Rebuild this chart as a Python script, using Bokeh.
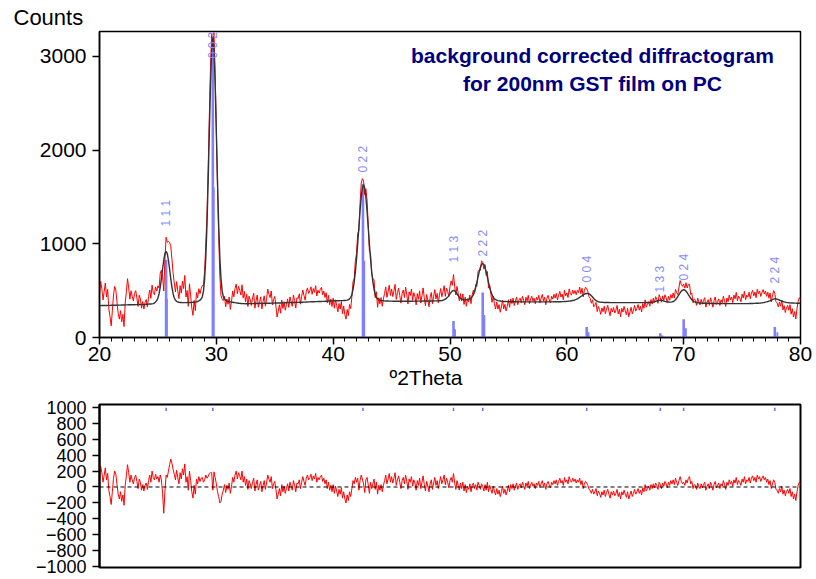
import numpy as np
from bokeh.plotting import figure
from bokeh.layouts import column
from bokeh.models import Label, Range1d, FixedTicker, Span, Title
from bokeh.embed import file_html
from bokeh.resources import INLINE
from bokeh.core.properties import value

# ---------------- data ----------------
# scan: 20-80 deg 2theta, step 0.1 deg
two_theta = np.round(np.arange(20.0, 80.0001, 0.1), 2)

# calculated profile (black line), one row per degree
calc_counts = [
    340, 340, 341, 341, 342, 342, 342, 343, 343, 343,
    344, 344, 344, 345, 345, 345, 346, 346, 346, 347,
    347, 347, 348, 348, 348, 349, 349, 349, 350, 350,
    350, 351, 351, 352, 352, 352, 353, 353, 354, 354,
    355, 355, 356, 357, 358, 359, 361, 367, 380, 395,
    422, 467, 538, 629, 731, 826, 895, 920, 895, 826,
    731, 629, 538, 467, 422, 398, 386, 379, 376, 374,
    373, 372, 372, 372, 372, 372, 373, 373, 374, 375,
    376, 377, 378, 380, 384, 390, 398, 410, 435, 495,
    628, 857, 1205, 1666, 2192, 2699, 3064, 3200, 3064, 2699,
    2192, 1666, 1205, 857, 628, 495, 435, 410, 398, 390,
    385, 382, 380, 378, 376, 374, 372, 370, 368, 366,
    364, 363, 362, 362, 361, 361, 361, 361, 361, 362,
    362, 362, 362, 363, 363, 363, 363, 364, 364, 364,
    364, 365, 365, 365, 366, 366, 366, 367, 367, 367,
    368, 368, 368, 369, 369, 369, 370, 370, 371, 371,
    371, 372, 372, 373, 373, 373, 374, 374, 375, 375,
    375, 376, 376, 377, 377, 378, 378, 379, 379, 380,
    380, 381, 381, 382, 382, 383, 383, 384, 384, 385,
    385, 386, 386, 387, 387, 388, 389, 389, 390, 391,
    391, 392, 392, 393, 393, 393, 394, 394, 394, 395,
    395, 396, 399, 404, 412, 428, 455, 515, 592, 699,
    838, 1001, 1177, 1350, 1497, 1595, 1630, 1595, 1497, 1350,
    1177, 1001, 838, 699, 592, 515, 455, 428, 412, 404,
    399, 396, 394, 392, 391, 390, 389, 389, 388, 388,
    388, 387, 387, 387, 387, 387, 387, 387, 387, 387,
    387, 387, 387, 387, 387, 387, 387, 387, 387, 388,
    388, 388, 388, 388, 388, 388, 388, 389, 389, 389,
    389, 389, 389, 390, 390, 390, 390, 391, 391, 391,
    391, 392, 393, 395, 398, 403, 409, 418, 431, 447,
    466, 484, 497, 502, 497, 484, 466, 447, 431, 418,
    409, 405, 403, 402, 403, 405, 408, 414, 421, 436,
    456, 490, 534, 587, 644, 700, 747, 779, 790, 779,
    747, 700, 644, 587, 534, 490, 455, 430, 414, 404,
    398, 394, 391, 389, 387, 386, 385, 384, 384, 383,
    383, 382, 382, 382, 381, 381, 381, 381, 380, 380,
    380, 380, 380, 380, 380, 380, 380, 380, 380, 380,
    380, 380, 380, 380, 380, 380, 380, 380, 380, 380,
    380, 380, 380, 380, 380, 380, 380, 380, 380, 381,
    381, 381, 381, 382, 382, 382, 383, 383, 384, 385,
    386, 387, 388, 390, 392, 395, 398, 402, 407, 413,
    420, 428, 437, 446, 455, 462, 467, 470, 470, 466,
    458, 446, 432, 417, 404, 394, 387, 382, 379, 377,
    376, 375, 374, 374, 373, 373, 373, 372, 372, 372,
    372, 372, 372, 372, 372, 372, 372, 372, 372, 372,
    372, 372, 372, 372, 372, 372, 372, 372, 372, 372,
    372, 372, 372, 372, 372, 372, 372, 372, 373, 373,
    373, 374, 375, 377, 379, 382, 386, 390, 394, 397,
    398, 397, 394, 390, 386, 383, 380, 379, 378, 378,
    380, 384, 391, 403, 419, 438, 458, 478, 495, 506,
    510, 506, 495, 478, 458, 438, 419, 403, 391, 383,
    377, 373, 371, 369, 368, 367, 366, 366, 365, 365,
    365, 364, 364, 364, 363, 363, 363, 363, 362, 362,
    362, 362, 362, 362, 362, 362, 362, 362, 362, 362,
    362, 362, 362, 362, 362, 362, 362, 362, 362, 362,
    362, 362, 362, 362, 362, 362, 363, 363, 363, 363,
    364, 364, 365, 365, 366, 367, 368, 370, 372, 374,
    377, 380, 384, 389, 394, 400, 405, 410, 413, 412,
    409, 405, 400, 394, 389, 384, 380, 377, 374, 372,
    371, 370, 369, 368, 368, 367, 367, 366, 366, 365,
    365,
]

# difference observed - calculated (lower panel), one row per degree
diff_counts = [
    120, 260, 180, 60, 150, 240, 90, 170, -40, -120,
    -220, -60, 110, 200, 160, 30, -90, -150, -60, -180,
    -100, -230, 20, 140, 280, 180, 60, 150, 90, 40,
    120, 150, 70, -20, 100, 60, -40, 30, -50, 20,
    50, -30, 80, 150, 60, 200, 120, 90, 160, 100,
    130, 60, 150, 90, -80, -330, -60, 150, 120, 200,
    280, 350, 300, 220, 160, 90, 210, 120, 40, 180,
    100, 230, 150, 290, 60, 130, -40, 200, 80, -60,
    -140, 20, -90, 100, 40, 130, 70, 110, 120, 60,
    90, 150, 110, 130, 170, 180, 180, -40, 190, 120,
    40, -60, -120, -200, -180, -90, -40, 30, -70, 20,
    -30, 50, -80, 10, 120, 60, 150, 200, 100, 180,
    140, 90, 200, 60, 130, 20, 100, -30, 80, 40,
    -20, 60, 110, -50, 30, 90, -40, 20, 70, -60,
    20, 80, -30, 50, 150, 100, 60, 130, -20, 40,
    70, -30, -150, -90, -20, -110, 30, -60, 10, -80,
    -20, 40, -50, 60, 10, -40, 80, 20, -60, 50,
    40, 90, -20, 60, 130, 70, 20, 110, 150, 90,
    120, 160, 80, 140, 100, 170, 60, 120, 90, 130,
    150, 70, 110, 40, 90, -20, 60, -40, 20, -60,
    30, -80, 10, -50, -120, -30, -90, -10, -140, -60,
    -150, -200, -100, -170, -60, -120, -20, 80, 40, 120,
    60, 110, -40, 80, 150, 100, 40, -70, 90, 120,
    30, -80, 60, -20, 40, 100, -30, 60, -90, 20,
    -40, 30, -60, 20, 80, 150, 40, 100, 170, 60,
    130, 50, 110, 180, 20, 90, 140, 60, -20, 80,
    120, 40, 150, 70, -30, 100, 60, 130, 10, 90,
    50, -40, 80, 20, 110, -20, 60, 140, 30, -50,
    70, 10, -60, 40, 90, -30, 50, 120, 20, 80,
    -20, 60, 130, 40, 90, 150, 30, 110, 60, -10,
    80, 120, 60, 170, 50, -30, 80, 20, -40, 50,
    -20, 60, -50, 30, -70, 10, -30, 40, -60, 20,
    50, -20, 30, -40, 60, 20, -30, 40, 10, -50,
    30, -40, 60, -60, 20, -30, -80, 10, -50, -100,
    -20, -90, -40, -120, -60, 10, -80, -30, -100, -50,
    20, -60, 30, -20, 40, -40, 10, 50, -30, 20,
    40, -10, 60, 20, -30, 50, 10, 70, -20, 30,
    60, 10, 40, -20, 50, 20, 70, -10, 40, 80,
    10, 50, -30, 40, 70, 20, -10, 60, 30, 80,
    40, 90, 20, 70, 110, 50, 80, 20, 120, 60,
    90, 40, 130, 80, 60, 110, 70, 100, 50, 90,
    60, 110, 30, 80, -20, 40, 70, 50, 20, -30,
    -40, -80, -30, -90, -60, -20, -110, -50, -80, -130,
    -60, -100, -40, -120, -70, -30, -90, -140, -60, -100,
    -50, -110, -80, -30, -120, -70, -150, -60, -100, -40,
    -90, -130, -60, -150, -100, -50, -120, -80, -30, -90,
    -60, -20, -80, -40, -100, -10, -60, 30, -50, -20,
    10, -40, 30, -20, 40, -10, 50, 20, -30, 60,
    30, -20, 50, 10, 70, 40, -10, 60, 20, 80,
    40, 90, 30, 110, 60, 20, 80, 130, 70, 40,
    60, 20, 90, 50, 110, 130, 40, 70, -20, 30,
    20, -30, 50, 10, -20, 40, -10, 30, 60, -40,
    10, 40, -20, 60, 20, -40, 30, 70, -10, 20,
    50, -20, 40, 10, 80, 30, -30, 60, 20, 90,
    40, 70, 10, 90, 50, 120, 30, 80, 60, 20,
    100, 60, 130, 40, 90, 70, 120, 50, 110, 140,
    80, 120, 60, 150, 100, 130, 70, 110, 140, 90,
    120, 60, 100, 30, 80, -20, 40, 90, 60, -30,
    -40, -80, -20, -60, 10, -90, -40, -110, -60, -30,
    -80, -20, -120, -60, -150, -90, -170, -60, 20, 60,
    40,
]

# reference pattern (blue sticks): K-alpha1 and K-alpha2 lines
ref_pos = [25.7, 29.7, 42.55, 50.3, 52.8, 61.7, 68.0, 70.0, 77.8]
ref_int = [830, 3200, 1640, 175, 480, 112, 45, 195, 112]
ref_pos_a2 = [25.77, 29.78, 42.66, 50.43, 52.94, 61.86, 68.18, 70.19, 78.02]
ref_int_a2 = [415, 1600, 820, 88, 240, 56, 22, 98, 56]
hkl_labels = ["1 1 1", "0 0 2", "0 2 2", "1 1 3", "2 2 2", "0 0 4", "1 3 3", "0 2 4", "2 2 4"]
label_y = [1185, 2978, 1760, 800, 865, 587, 480, 608, 576]

x_ticks = [20, 30, 40, 50, 60, 70, 80]
y_ticks = [0, 1000, 2000, 3000]
diff_ticks = [-1000, -800, -600, -400, -200, 0, 200, 400, 600, 800, 1000]

calc = np.array(calc_counts, dtype=float)
diff = np.array(diff_counts, dtype=float)
obs = calc + diff

FONT = "Liberation Sans"
BLUE = "#7f7fff"

# ---------------- upper panel ----------------
p1 = figure(width=816, height=395, x_range=Range1d(20, 80), y_range=Range1d(0, 3266),
            output_backend="svg", toolbar_location=None,
            min_border_left=99, min_border_right=16, min_border_top=31, min_border_bottom=58)
p1.title = Title(text="Counts", align="left", offset=-86, standoff=4,
                 text_font=FONT, text_font_size="22px", text_font_style="normal",
                 text_color="black")
p1.add_layout(Title(text="º2Theta", align="left", offset=290, standoff=0,
                    text_font=FONT, text_font_size="21px", text_font_style="normal",
                    text_color="black"), "below")
p1.grid.grid_line_color = None
p1.outline_line_color = "black"
p1.outline_line_width = 1.5
p1.background_fill_color = "white"
p1.border_fill_color = "white"

p1.vbar(x=ref_pos, top=ref_int, width=0.22, fill_color=BLUE, line_color=None)
p1.vbar(x=ref_pos_a2, top=ref_int_a2, width=0.16, fill_color=BLUE, line_color=None)
p1.line(two_theta, obs, line_color="#ff0000", line_width=1)
p1.line(two_theta, calc, line_color="#333333", line_width=1.4)
p1.text(x=ref_pos, y=label_y, text=hkl_labels, angle=np.pi / 2,
        text_align="left", text_baseline="middle",
        text_font=value(FONT), text_font_size="12px", text_color="#8a8aff")

for ax in (p1.xaxis[0], p1.yaxis[0]):
    ax.axis_line_width = 1.5
    ax.axis_line_color = "black"
    ax.major_tick_line_width = 1.5
    ax.major_tick_in = 0
    ax.major_tick_out = 7
    ax.major_label_text_font = FONT
    ax.major_label_text_font_size = "21px"
    ax.major_label_text_color = "black"

p1.xaxis.ticker = FixedTicker(ticks=x_ticks, minor_ticks=list(range(20, 81)))
p1.xaxis.minor_tick_in = 0
p1.xaxis.minor_tick_out = 4
p1.xaxis.minor_tick_line_width = 1
p1.xaxis.minor_tick_line_color = "black"
p1.xaxis.major_label_standoff = 2
p1.yaxis.ticker = FixedTicker(ticks=y_ticks)
p1.yaxis.minor_tick_line_color = None
p1.yaxis.major_label_standoff = 6

p1.add_layout(Label(x=493, y=282, x_units="screen", y_units="screen",
                    text="background corrected diffractogram",
                    text_font=FONT, text_font_size="21px", text_font_style="bold",
                    text_color="#00007f", text_align="center", text_baseline="middle"))
p1.add_layout(Label(x=493, y=254, x_units="screen", y_units="screen",
                    text="for 200nm GST film on PC",
                    text_font=FONT, text_font_size="21px", text_font_style="bold",
                    text_color="#00007f", text_align="center", text_baseline="middle"))

# ---------------- lower (difference) panel ----------------
p2 = figure(width=816, height=184, x_range=Range1d(20, 80), y_range=Range1d(-1012, 1037),
            output_backend="svg", toolbar_location=None,
            min_border_left=99, min_border_right=16, min_border_top=9, min_border_bottom=12)
p2.grid.grid_line_color = None
p2.outline_line_color = "black"
p2.outline_line_width = 2
p2.xaxis.visible = False
p2.background_fill_color = "white"
p2.border_fill_color = "white"

p2.add_layout(Span(location=0, dimension="width", line_color="black",
                   line_width=1, line_dash="4 3"))
p2.line(two_theta, diff, line_color="#ff0000", line_width=1)
p2.segment(x0=ref_pos, y0=[955] * len(ref_pos), x1=ref_pos, y1=[995] * len(ref_pos),
           line_color="#6a6aff", line_width=1.5)

ax2 = p2.yaxis[0]
ax2.ticker = FixedTicker(ticks=diff_ticks)
ax2.minor_tick_line_color = None
ax2.axis_line_width = 2
ax2.major_tick_line_width = 1.5
ax2.major_tick_in = 0
ax2.major_tick_out = 7
ax2.major_label_standoff = 6
ax2.major_label_text_font = FONT
ax2.major_label_text_font_size = "18px"
ax2.major_label_text_color = "black"

layout = column(p1, p2, spacing=0)
open("out.html", "w").write(file_html(layout, INLINE))
